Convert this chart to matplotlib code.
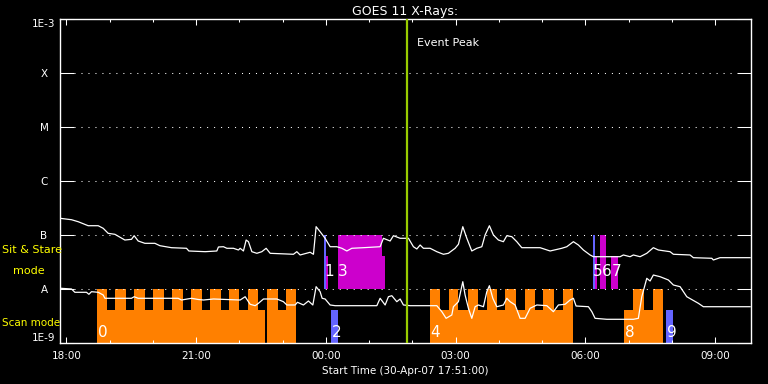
import numpy as np
import matplotlib
matplotlib.use("Agg")
import matplotlib.pyplot as plt
from matplotlib.ticker import NullLocator

# GOES 11 long channel, time in hours UT (24+ = next day), log10 flux
long_t = [17.854, 18.116, 18.271, 18.502, 18.733, 18.849, 18.964, 19.119, 19.350, 19.503,
          19.565, 19.658, 19.813, 20.044, 20.160, 20.428, 20.775, 20.830, 21.207, 21.477,
          21.514, 21.630, 21.709, 21.861, 21.977, 22.016, 22.092, 22.155, 22.208, 22.287,
          22.402, 22.518, 22.617, 22.710, 23.249, 23.327, 23.403, 23.635, 23.711, 23.773,
          23.866, 23.981, 24.097, 24.252, 24.368, 24.483, 24.599, 24.867, 25.253, 25.329,
          25.484, 25.561, 25.716, 25.908, 26.023, 26.102, 26.178, 26.254, 26.409, 26.564,
          26.717, 26.832, 26.987, 27.064, 27.165, 27.258, 27.373, 27.489, 27.605, 27.681,
          27.780, 27.873, 27.988, 28.104, 28.183, 28.298, 28.414, 28.529, 28.953, 29.184,
          29.454, 29.570, 29.723, 29.838, 29.954, 30.109, 30.185, 30.802, 30.879, 31.033,
          31.110, 31.265, 31.420, 31.572, 31.688, 31.958, 32.035, 32.421, 32.497, 32.923,
          32.960, 33.115, 33.808]
long_lf = [-6.691, -6.717, -6.754, -6.828, -6.828, -6.876, -6.969, -6.987, -7.093, -7.080,
           -7.013, -7.111, -7.154, -7.154, -7.198, -7.235, -7.246, -7.296, -7.309, -7.296,
           -7.222, -7.217, -7.246, -7.246, -7.278, -7.246, -7.296, -7.093, -7.124, -7.309,
           -7.339, -7.309, -7.246, -7.339, -7.357, -7.309, -7.370, -7.320, -7.357, -6.846,
           -6.939, -7.061, -7.217, -7.217, -7.246, -7.296, -7.246, -7.235, -7.217, -7.061,
           -7.111, -7.013, -7.061, -7.061, -7.217, -7.259, -7.185, -7.246, -7.246, -7.309,
           -7.357, -7.339, -7.246, -7.172, -6.846, -7.061, -7.296, -7.246, -7.217, -7.000,
           -6.828, -7.000, -7.093, -7.124, -7.013, -7.031, -7.124, -7.235, -7.235, -7.296,
           -7.246, -7.217, -7.124, -7.185, -7.278, -7.370, -7.402, -7.402, -7.370, -7.402,
           -7.370, -7.402, -7.339, -7.235, -7.278, -7.309, -7.357, -7.370, -7.420, -7.431,
           -7.463, -7.420, -7.420]

# short channel
short_t = [17.871, 18.116, 18.194, 18.462, 18.518, 18.578, 18.733, 18.849, 18.888, 19.503,
           19.565, 19.658, 20.583, 20.659, 20.890, 21.045, 21.168, 21.399, 22.016, 22.132,
           22.247, 22.363, 22.439, 22.555, 22.865, 23.017, 23.096, 23.288, 23.341, 23.480,
           23.595, 23.697, 23.773, 23.866, 23.912, 23.981, 24.097, 24.213, 25.177, 25.253,
           25.369, 25.445, 25.524, 25.639, 25.716, 25.792, 25.947, 26.564, 26.680, 26.779,
           26.911, 26.948, 27.064, 27.165, 27.218, 27.295, 27.373, 27.450, 27.526, 27.642,
           27.720, 27.780, 27.859, 27.951, 28.104, 28.183, 28.259, 28.375, 28.490, 28.606,
           28.722, 28.877, 29.108, 29.260, 29.376, 29.531, 29.646, 29.723, 29.785, 30.070,
           30.149, 30.224, 30.495, 31.110, 31.225, 31.304, 31.420, 31.496, 31.572, 31.727,
           31.919, 32.035, 32.190, 32.345, 32.613, 32.728, 33.808]
short_lf = [-7.987, -8.000, -8.061, -8.061, -8.098, -8.050, -8.061, -8.111, -8.172, -8.172,
            -8.143, -8.172, -8.172, -8.204, -8.172, -8.194, -8.204, -8.185, -8.204, -8.143,
            -8.283, -8.309, -8.265, -8.185, -8.185, -8.235, -8.296, -8.296, -8.246, -8.296,
            -8.222, -8.296, -7.957, -8.050, -8.172, -8.185, -8.296, -8.309, -8.309, -8.172,
            -8.296, -8.143, -8.124, -8.235, -8.185, -8.296, -8.309, -8.309, -8.420, -8.543,
            -8.481, -8.328, -8.235, -7.865, -8.111, -8.357, -8.543, -8.328, -8.296, -8.328,
            -8.050, -7.939, -8.172, -8.328, -8.296, -8.172, -8.235, -8.296, -8.543, -8.543,
            -8.357, -8.296, -8.309, -8.420, -8.296, -8.283, -8.204, -8.172, -8.315, -8.328,
            -8.420, -8.543, -8.561, -8.561, -8.543, -8.143, -7.802, -7.852, -7.741, -7.772,
            -7.833, -7.926, -7.957, -8.143, -8.265, -8.328, -8.328]

# observing modes (start, end) in hours
scan_base = [(18.710, 22.594), (22.640, 23.311), (26.410, 29.723), (30.895, 31.797)]
scan_teeth = [(18.710, 18.941), (19.133, 19.373), (19.565, 19.827), (20.012, 20.259),
              (20.451, 20.691), (20.890, 21.131), (21.324, 21.578), (21.753, 22.000),
              (22.194, 22.439), (22.647, 22.888), (23.080, 23.311),
              (26.410, 26.641), (26.855, 27.064), (27.295, 27.526), (27.720, 27.951),
              (28.143, 28.397), (28.606, 28.837), (29.029, 29.283), (29.478, 29.723),
              (31.110, 31.357), (31.558, 31.797)]
scan_blue = [(24.120, 24.275), (31.866, 32.028)]
stare_full = [(24.275, 25.293), (30.340, 30.479)]
stare_low = [(24.005, 24.051), (25.293, 25.369), (30.224, 30.270), (30.595, 30.757)]
stare_blue = [(23.958, 24.005), (30.185, 30.224)]

region_names = ["0", "1", "2", "3", "4", "5", "6", "7", "8", "9"]
region_t = [18.72, 23.96, 24.13, 24.285, 26.42, 30.17, 30.38, 30.61, 30.905, 31.876]
region_mode = ["scan", "stare", "scan", "stare", "scan", "stare", "stare", "stare", "scan", "scan"]

event_peak = 25.871

ytick_vals = [1e-3, 1e-4, 1e-5, 1e-6, 1e-7, 1e-8, 1e-9]
ytick_names = ["1E-3", "X", "M", "C", "B", "A", "1E-9"]
xtick_hours = [18, 21, 24, 27, 30, 33]
xtick_names = ["18:00", "21:00", "00:00", "03:00", "06:00", "09:00"]

ORANGE = "#ff8000"
MAGENTA = "#cc00cc"
BLUE = "#6464ff"

fig = plt.figure(figsize=(7.68, 3.84), dpi=100, facecolor="black")
ax = fig.add_axes([60 / 768, 41 / 384, 691 / 768, 324 / 384], facecolor="black")
ax.set_yscale("log")

scan_lo, scan_hi = 10 ** -8.39, 1e-8
stare_lo, stare_hi = 10 ** -7.39, 1e-7


def spans(lst, bottom, top, color):
    for a, b in lst:
        ax.bar(a, top - bottom, width=b - a, bottom=bottom, align="edge",
               color=color, linewidth=0, zorder=1)


spans(scan_base, 1e-9, scan_lo, ORANGE)
spans(scan_teeth, 1e-9, scan_hi, ORANGE)
spans(scan_blue, 1e-9, scan_lo, BLUE)
spans(stare_full, 1e-8, stare_hi, MAGENTA)
spans(stare_low, 1e-8, stare_lo, MAGENTA)
spans(stare_blue, 1e-8, stare_hi, BLUE)

# region numbers, narrow digits like the original
for name, t, m in zip(region_names, region_t, region_mode):
    yv = 10 ** -8.806 if m == "scan" else 10 ** -7.685
    ax.text(t, yv, name, color="white", fontsize=11, ha="left", va="center", zorder=4,
            family=["Liberation Sans Narrow", "DejaVu Sans"])

# dotted level lines
for v in ytick_vals[1:-1]:
    ax.axhline(v, xmin=14 / 691, xmax=1 - 14 / 691, color="white", lw=0.75,
               ls=(0, (1, 5.7)), zorder=2)

ax.plot(long_t, 10 ** np.array(long_lf), color="white", lw=0.9, zorder=3)
ax.plot(short_t, 10 ** np.array(short_lf), color="white", lw=0.9, zorder=3)

ax.axvline(event_peak, color="#99cc00", lw=1.6, zorder=5)
ax.text(event_peak + 0.23, 10 ** -3.444, "Event Peak", color="white", fontsize=8,
        ha="left", va="center")

ax.set_xlim(17.85, 33.83)
ax.set_ylim(1e-9, 1e-3)

ax.set_yticks(ytick_vals)
ax.set_yticklabels(ytick_names)
ax.yaxis.set_minor_locator(NullLocator())
ax.tick_params(axis="y", which="major", direction="in", length=10, width=0.75,
               colors="white", labelsize=7.5, right=True, pad=11.5)
for lbl in ax.get_yticklabels():
    lbl.set_ha("center")
ylbls = ax.get_yticklabels()
ylbls[0].set_va("top")
ylbls[-1].set_va("bottom")

ax.set_xticks(xtick_hours)
ax.set_xticklabels(xtick_names)
ax.set_xticks(range(18, 34), minor=True)
ax.tick_params(axis="x", which="major", direction="in", length=4.5, width=0.75,
               colors="white", labelsize=7.5, top=True, pad=6)
ax.tick_params(axis="x", which="minor", direction="in", length=2.5, width=0.75,
               colors="white", top=True)

for s in ax.spines.values():
    s.set_color("white")
    s.set_linewidth(1)

ax.set_title("GOES 11 X-Rays:", color="white", fontsize=9, pad=3)
ax.set_xlabel("Start Time (30-Apr-07 17:51:00)", color="white", fontsize=7.5, labelpad=3.5)

fig.text(2 / 768, 1 - 250 / 384, "Sit & Stare", color="yellow", fontsize=8, va="center")
fig.text(13 / 768, 1 - 271 / 384, "mode", color="yellow", fontsize=8, va="center")
fig.text(2 / 768, 1 - 323 / 384, "Scan mode", color="yellow", fontsize=7.5, va="center")

fig.savefig("out.png", dpi=100, facecolor="black")
